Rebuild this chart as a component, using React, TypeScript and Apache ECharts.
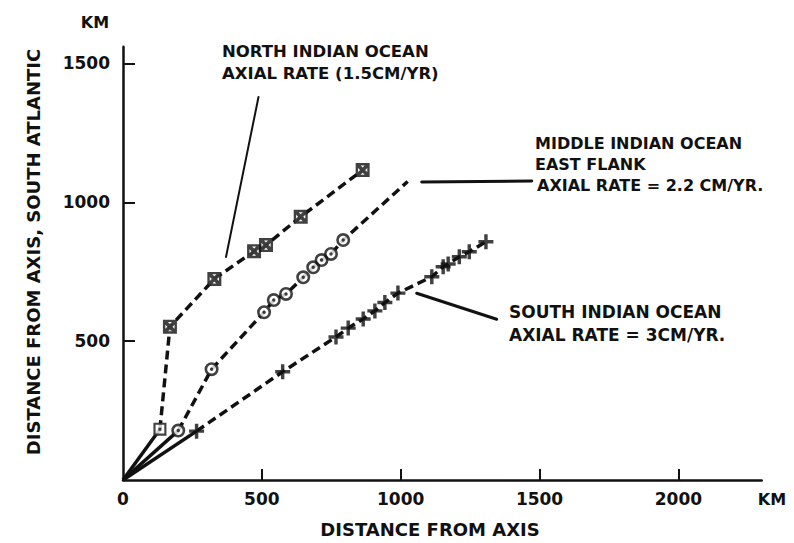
import React, { useEffect, useRef } from "react";
import * as echarts from "echarts";

// North Indian Ocean (squares)
const northX = [133, 169, 329, 472, 515, 640, 863];
const northY = [183, 552, 724, 824, 846, 948, 1116];
// Middle Indian Ocean, east flank (circles)
const middleX = [199, 319, 508, 543, 587, 649, 685, 715, 749, 793];
const middleY = [178, 399, 604, 648, 670, 730, 766, 792, 814, 864];
const middleLineEnd = [1025, 1075];
// South Indian Ocean (crosses)
const southX = [265, 575, 767, 811, 865, 907, 943, 990, 1112, 1153, 1171, 1211, 1247, 1307];
const southY = [176, 390, 515, 547, 580, 609, 639, 673, 732, 768, 778, 804, 822, 858];

const xLabelTicks = [0, 500, 1000, 1500, 2000];
const xMarkTicks = [500, 1000, 1500, 2000];
const yTicks = [500, 1000, 1500];

const SQ_X =
  "path://M0,0H14V14H0Z M2.4,2.4V11.6H11.6V2.4Z M2.4,2.4H5L11.6,9V11.6H9L2.4,5Z M11.6,2.4V5L5,11.6H2.4V9L9,2.4Z";
const SQ_DOT = "path://M0,0H14V14H0Z M2.3,2.3V11.7H11.7V2.3Z M5.4,5.4H8.6V8.6H5.4Z";
const CIRC_DOT =
  "path://M7,0A7,7,0,1,1,7,14A7,7,0,1,1,7,0Z M7,2.6A4.4,4.4,0,1,0,7,11.4A4.4,4.4,0,1,0,7,2.6Z M7,5.3A1.7,1.7,0,1,1,7,8.7A1.7,1.7,0,1,1,7,5.3Z";
const CROSS = "path://M5.4,0H8.6V5.4H14V8.6H8.6V14H5.4V8.6H0V5.4H5.4Z";

const INK = "#111";
const FONT = '"DejaVu Sans", sans-serif';

function pts(xs: number[], ys: number[]) {
  return xs.map((x, i) => [x, ys[i]]);
}

export default function App() {
  const ref = useRef<HTMLDivElement>(null);
  useEffect(() => {
    if (!ref.current) return;
    const chart = echarts.init(ref.current, null, { renderer: "svg" });
    const north = pts(northX, northY);
    const middle = pts(middleX, middleY);
    const south = pts(southX, southY);
    const solid = { color: INK, width: 3.5, type: "solid" as const };
    const dashed = { color: INK, width: 3.5, type: [9, 5] as any };
    const lineBase = {
      type: "line" as const,
      symbol: "none",
      silent: true,
      z: 2,
    };
    const text = (t: string, x: number, y: number, size = 16.5, align = "left") => ({
      type: "text",
      x,
      y,
      style: {
        text: t,
        fill: INK,
        font: `bold ${size}px ${FONT}`,
        textAlign: align,
        textVerticalAlign: "middle",
        align,
        verticalAlign: "middle",
      },
      z: 10,
    });
    const leader = (x1: number, y1: number, x2: number, y2: number, w: number) => ({
      type: "line",
      shape: { x1, y1, x2, y2 },
      style: { stroke: INK, lineWidth: w, lineCap: "round" },
      z: 10,
    });
    const plain = (v: number) => String(v);
    chart.setOption({
      animation: false,
      backgroundColor: "#fff",
      grid: { left: 123, right: 32.3, top: 46.8, bottom: 63, containLabel: false },
      xAxis: {
        type: "value",
        min: 0,
        max: 2300,
        interval: 500,
        axisLine: { show: true, lineStyle: { color: INK, width: 2.5 } },
        axisTick: {
          show: true,
          inside: true,
          length: 11,
          lineStyle: { color: INK, width: 2 },
          customValues: xMarkTicks,
        },
        axisLabel: {
          show: true,
          margin: 10,
          color: INK,
          fontFamily: FONT,
          fontWeight: "bold",
          fontSize: 17,
          customValues: xLabelTicks,
          formatter: plain,
        },
        splitLine: { show: false },
      },
      yAxis: {
        type: "value",
        min: 0,
        max: 1560,
        interval: 500,
        axisLine: { show: true, lineStyle: { color: INK, width: 2.5 } },
        axisTick: {
          show: true,
          inside: true,
          length: 12,
          lineStyle: { color: INK, width: 2 },
          customValues: yTicks,
        },
        axisLabel: {
          show: true,
          margin: 13,
          color: INK,
          fontFamily: FONT,
          fontWeight: "bold",
          fontSize: 17,
          customValues: yTicks,
          formatter: plain,
        },
        splitLine: { show: false },
      },
      series: [
        { ...lineBase, data: [[0, 0], north[0]], lineStyle: solid },
        { ...lineBase, data: north, lineStyle: dashed },
        {
          type: "scatter",
          z: 4,
          silent: true,
          itemStyle: { color: "#fff" },
          symbol: "rect",
          symbolSize: 12,
          data: north,
        },
        {
          type: "scatter",
          z: 5,
          itemStyle: { color: INK },
          symbolSize: 14,
          data: north.map((p, i) => ({
            value: p,
            symbol: i === 0 ? SQ_DOT : SQ_X,
            symbolSize: i === 0 ? 13 : 14,
          })),
        },
        { ...lineBase, data: [[0, 0], middle[0]], lineStyle: solid },
        { ...lineBase, data: [...middle, middleLineEnd], lineStyle: dashed },
        {
          type: "scatter",
          z: 4,
          silent: true,
          itemStyle: { color: "#fff" },
          symbol: "circle",
          symbolSize: 12,
          data: middle,
        },
        {
          type: "scatter",
          z: 5,
          itemStyle: { color: INK },
          symbol: CIRC_DOT,
          symbolSize: 14,
          data: middle,
        },
        { ...lineBase, data: [[0, 0], south[0]], lineStyle: solid },
        { ...lineBase, data: south, lineStyle: dashed },
        {
          type: "scatter",
          z: 5,
          itemStyle: { color: INK },
          symbol: CROSS,
          symbolSize: 15,
          data: south,
        },
      ],
      graphic: [
        text("KM", 95, 22, 16, "center"),
        text("KM", 772, 499, 16, "center"),
        text("NORTH INDIAN OCEAN", 222, 51),
        text("AXIAL RATE (1.5CM/YR)", 222, 73),
        text("MIDDLE INDIAN OCEAN", 535, 143, 16),
        text("EAST FLANK", 535, 164, 16),
        text("AXIAL RATE = 2.2 CM/YR.", 537, 185, 16),
        text("SOUTH INDIAN OCEAN", 509, 312, 17),
        text("AXIAL RATE = 3CM/YR.", 509, 335, 17),
        text("DISTANCE FROM AXIS", 430, 529, 18, "center"),
        {
          type: "text",
          x: 33,
          y: 252,
          rotation: Math.PI / 2,
          style: {
            text: "DISTANCE FROM AXIS, SOUTH ATLANTIC",
            fill: INK,
            font: `bold 18px ${FONT}`,
            textAlign: "center",
            textVerticalAlign: "middle",
            align: "center",
            verticalAlign: "middle",
          },
          z: 10,
        },
        leader(258.5, 97, 226, 257, 2),
        leader(421.7, 182, 531.7, 181, 3),
        leader(416.7, 293.3, 496.7, 319.3, 3),
      ],
    });
    return () => chart.dispose();
  }, []);
  return (
    <div
      ref={ref}
      style={{ position: "fixed", left: 0, top: 0, width: 794, height: 543, background: "#fff" }}
    />
  );
}
